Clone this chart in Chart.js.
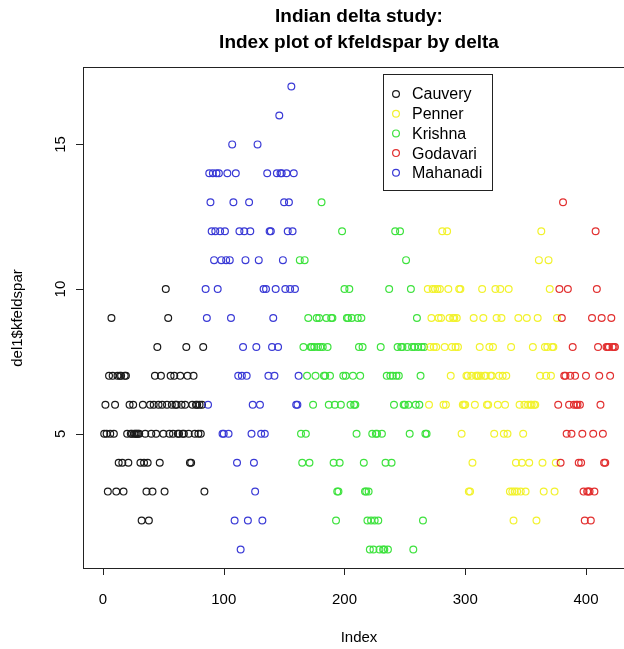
<!DOCTYPE html>
<html>
<head>
<meta charset="utf-8">
<script src="https://cdn.jsdelivr.net/npm/chart.js@4"></script>
<style>
  html, body { margin: 0; padding: 0; background: #fff; overflow: hidden; }
  #wrap { width: 624px; height: 649px; }
</style>
</head>
<body>
<div id="wrap"><canvas id="chart" width="624" height="649"></canvas></div>
<script>
// kfeldspar values in index order, split by delta (data order of del1)
const cauvery = [5,6,5,3,7,5,9,7,5,6, 3,7,4,7,7,4,3,7,7,5, 4,6,5,5,6,5,5,5,5,5,
  4,2,6,4,5,3,4,2,6,5, 3,6,7,5,8,6,4,7,6,5, 3,10,6,9,5,7,6,5,7,6,
  6,5,5,7,6,5,5,6,8,7, 5,4,4,6,7,5,6,6,5,6, 5,6,8,3];
const mahanadi = [10,9,6,14,13,12,14,11,12,14, 10,14,12,11,5,5,12,11,14,5,
  11,9,15,13,2,14,4,7,12,1, 7,8,12,11,7,2,13,12,5,6, 4,3,8,15,11,6,5,2,10,5,
  10,14,7,12,12,8,9,7,10,14, 8,16,14,14,11,13,10,14,12,13, 10,17,12,14,10,6,6,7];
const krishna = [11,5,4,8,11,5,7,9,4,8, 8,6,8,7,9,8,9,8,13,8, 7,7,9,8,6,7,9,9,4,6,
  2,3,3,4,6,12,7,10,7,9, 9,10,6,9,7,6,6,5,9,8, 7,9,8,4,3,3,2,3,1,2,
  5,1,2,5,5,2,1,8,5,1, 1,4,7,1,10,7,4,7,6,12, 7,8,7,12,8,8,6,6,11,8,
  6,5,10,8,1,8,6,9,8,6, 7,8,2,8,5,5];
const penner = [10,6,8,9,10,8,10,8,10,9, 10,9,12,6,8,6,12,10,9,7, 8,9,9,8,9,8,10,10,5,6,
  6,6,7,7,3,3,7,4,9,6, 7,7,7,8,7,10,9,7,7,6, 6,8,7,7,8,5,10,9,6,7,
  10,9,7,5,6,7,5,10,3,8, 3,2,3,4,3,9,6,3,4,5, 6,3,9,6,4,6,6,8,6,6,
  2,9,11,7,12,4,3,8,7,8, 11,10,7,8,8,3,4,9];
const godavari = [6,10,4,9,13,7,7,5,10,6, 7,5,8,6,7,6,6,4,6,4, 5,3,2,7,3,3,3,2,9,5,
  3,12,10,8,7,6,9,5,4,4, 8,8,8,7,9,8,8,8];

const legendNames = ['Cauvery', 'Penner', 'Krishna', 'Godavari', 'Mahanadi'];
const legendColors = ['#1a1a1a', '#f2f22e', '#3ee23e', '#e23030', '#3a3ad6'];
const xTicks = [0, 100, 200, 300, 400];
const yTicks = [5, 10, 15];

// build datasets: x is the running index, like plot(del1$kfeldspar)
const groups = [
  { name: 'Cauvery', vals: cauvery, color: legendColors[0] },
  { name: 'Mahanadi', vals: mahanadi, color: legendColors[4] },
  { name: 'Krishna', vals: krishna, color: legendColors[2] },
  { name: 'Penner', vals: penner, color: legendColors[1] },
  { name: 'Godavari', vals: godavari, color: legendColors[3] }
];
let idx = 0;
const datasets = groups.map((g, k) => {
  const pts = g.vals.map(v => { idx++; return { x: idx, y: v }; });
  return {
    label: g.name,
    data: pts,
    showLine: false,
    pointStyle: 'circle',
    pointRadius: 3.4,
    pointBorderWidth: 1.2,
    pointBackgroundColor: 'rgba(0,0,0,0)',
    pointBorderColor: g.color,
    order: groups.length - k
  };
});

const FONT = '"Liberation Sans", Arial, Helvetica, sans-serif';

// R-style box, axes, titles and legend
const rDecor = {
  id: 'rDecor',
  afterDraw(chart) {
    const ctx = chart.ctx;
    const a = chart.chartArea;
    const xs = chart.scales.x, ys = chart.scales.y;
    ctx.save();
    ctx.strokeStyle = '#222';
    ctx.fillStyle = '#000';
    ctx.lineWidth = 1;

    // box
    ctx.strokeRect(a.left - 0.5, a.top - 0.5, a.right - a.left + 30, a.bottom - a.top + 1);

    // x axis ticks
    ctx.beginPath();
    xTicks.forEach(t => {
      const px = Math.round(xs.getPixelForValue(t)) + 0.5;
      ctx.moveTo(px, a.bottom);
      ctx.lineTo(px, a.bottom + 7);
    });
    ctx.stroke();
    ctx.font = '15px ' + FONT;
    ctx.textAlign = 'center';
    ctx.textBaseline = 'middle';
    xTicks.forEach(t => ctx.fillText(String(t), xs.getPixelForValue(t), 600));

    // y axis ticks
    ctx.beginPath();
    yTicks.forEach(t => {
      const py = Math.round(ys.getPixelForValue(t)) + 0.5;
      ctx.moveTo(a.left - 1, py);
      ctx.lineTo(a.left - 8, py);
    });
    ctx.stroke();
    yTicks.forEach(t => {
      ctx.save();
      ctx.translate(61, ys.getPixelForValue(t));
      ctx.rotate(-Math.PI / 2);
      ctx.fillText(String(t), 0, 0);
      ctx.restore();
    });

    // axis titles
    ctx.fillText('Index', 359, 638);
    ctx.save();
    ctx.translate(18, 318);
    ctx.rotate(-Math.PI / 2);
    ctx.fillText('del1$kfeldspar', 0, 0);
    ctx.restore();

    // main title
    ctx.font = 'bold 19px ' + FONT;
    ctx.fillText('Indian delta study:', 359, 17);
    ctx.fillText('Index plot of kfeldspar by delta', 359, 43);

    // legend
    ctx.fillStyle = '#fff';
    ctx.fillRect(383.5, 74.5, 109, 116);
    ctx.strokeStyle = '#222';
    ctx.strokeRect(383.5, 74.5, 109, 116);
    ctx.font = '16px ' + FONT;
    ctx.textAlign = 'left';
    ctx.lineWidth = 1.2;
    legendNames.forEach((n, i) => {
      const y = 94 + i * 19.7;
      ctx.strokeStyle = legendColors[i];
      ctx.beginPath();
      ctx.arc(396, y, 3.4, 0, Math.PI * 2);
      ctx.stroke();
      ctx.fillStyle = '#000';
      ctx.fillText(n, 412, y + 1);
    });
    ctx.restore();
  }
};

new Chart(document.getElementById('chart'), {
  type: 'scatter',
  data: { datasets },
  options: {
    responsive: false,
    animation: false,
    events: [],
    devicePixelRatio: 1,
    layout: { autoPadding: false, padding: { top: 68, left: 0, right: 0, bottom: 0 } },
    plugins: { legend: { display: false }, tooltip: { enabled: false }, title: { display: false } },
    scales: {
      x: {
        type: 'linear', min: -15.73, max: 431.5,
        grid: { display: false }, border: { display: false },
        ticks: { display: false },
        afterFit: s => { s.height = 81; }
      },
      y: {
        type: 'linear', min: 0.36, max: 17.64,
        grid: { display: false }, border: { display: false },
        ticks: { display: false },
        afterFit: s => { s.width = 84; }
      }
    }
  },
  plugins: [rDecor]
});
</script>
</body>
</html>
